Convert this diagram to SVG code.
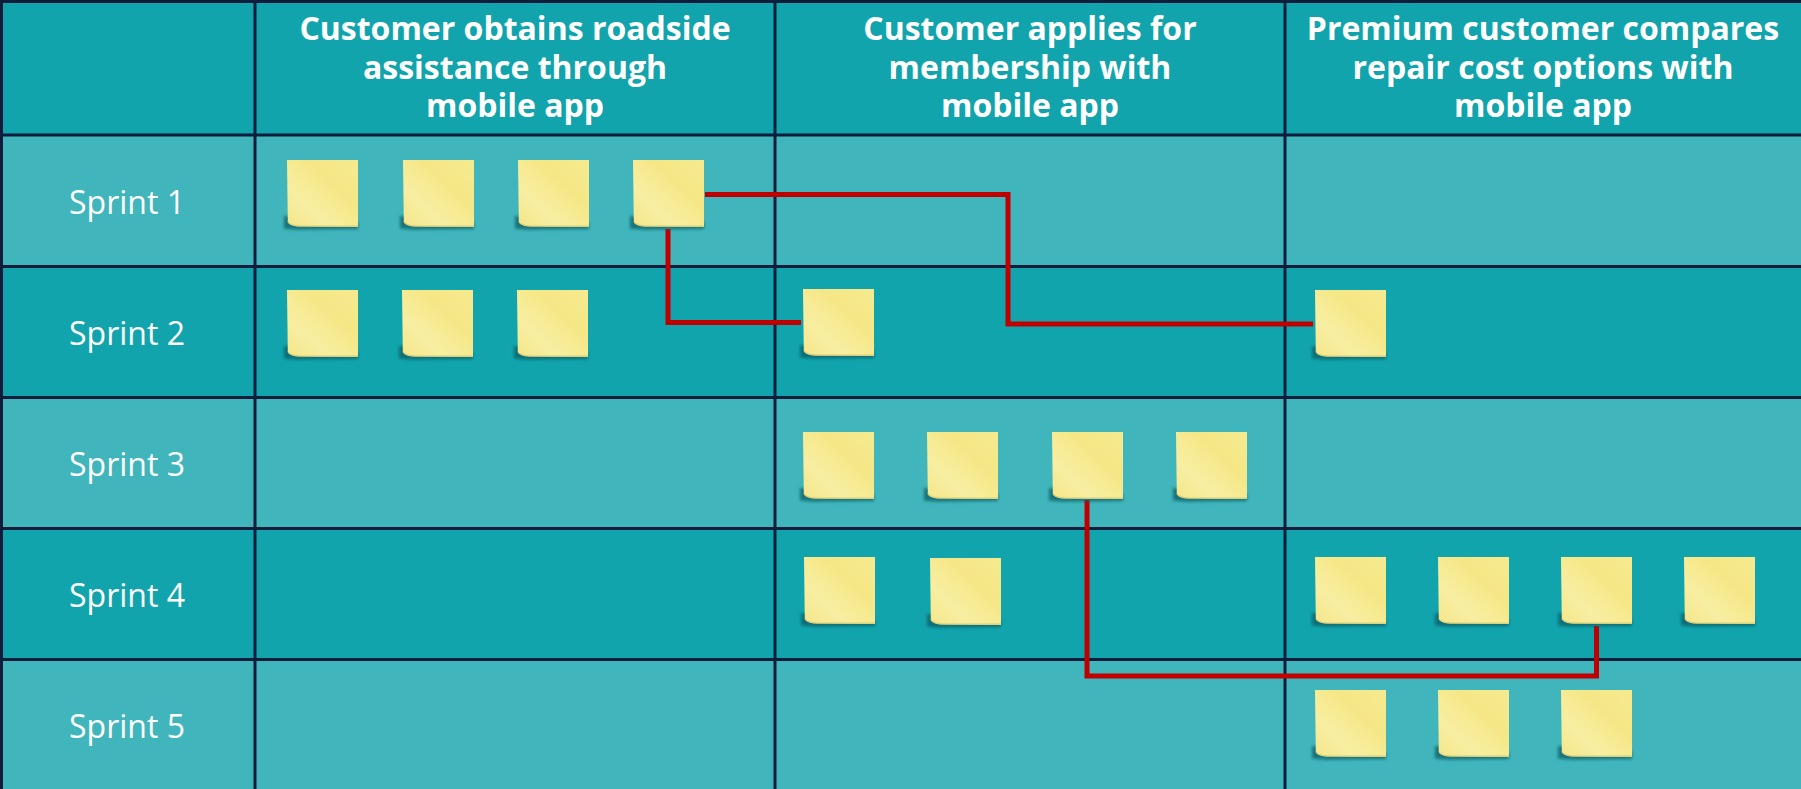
<svg xmlns="http://www.w3.org/2000/svg" xmlns:xlink="http://www.w3.org/1999/xlink" width="1801" height="789" viewBox="0 0 1801 789">
  <style>
    .hdr { fill: #11a4ac; }
    .lite { fill: #40b5bb; }
    .dark { fill: #11a4ac; }
    .grid { stroke: #0d1d3b; stroke-width: 3; fill: none; }
    .head { font-family: "Open Sans", "Liberation Sans", sans-serif; font-weight: 700; font-size: 32px; fill: #ffffff; text-anchor: middle; }
    .sprint { font-family: "Open Sans", "Liberation Sans", sans-serif; font-weight: 400; font-size: 32px; fill: #ffffff; text-anchor: middle; }
    .link { stroke: #c00000; stroke-width: 5; fill: none; stroke-linejoin: miter; stroke-linecap: butt; }
  </style>
  <defs>
    <linearGradient id="paper" x1="0" y1="1" x2="1" y2="0">
      <stop offset="0" stop-color="#f4e68a"/>
      <stop offset="0.3" stop-color="#f8eea2"/>
      <stop offset="0.65" stop-color="#f5e786"/>
      <stop offset="1" stop-color="#f6ea90"/>
    </linearGradient>
    <filter id="soft" x="-20%" y="-20%" width="140%" height="140%">
      <feGaussianBlur stdDeviation="1.6"/>
    </filter>
    <!-- sticky note: 71 x 67, slightly curled lower-left corner -->
    <symbol id="note" width="80" height="76" viewBox="-5 -2 80 76" overflow="visible">
      <path d="M-3,56 L-3,68.5 Q6,70 20,69.5 L71,69 L71,62 Z" fill="#0b5d66" opacity="0.75" filter="url(#soft)"/>
      <path d="M0,0 H71 V67 L12,66.6 Q3,66.3 0.8,62 Z" fill="url(#paper)"/>
      <path d="M71,66.2 L12,65.8 Q3,65.5 0.8,61.5" fill="none" stroke="#d9cd72" stroke-width="1.2"/>
    </symbol>
  </defs>

  <!-- board rows -->
  <g id="board">
    <rect class="hdr" x="0" y="0" width="1801" height="135"/>
    <rect class="lite" x="0" y="135" width="1801" height="131.5"/>
    <rect class="dark" x="0" y="266.5" width="1801" height="131"/>
    <rect class="lite" x="0" y="397.5" width="1801" height="131"/>
    <rect class="dark" x="0" y="528.5" width="1801" height="131"/>
    <rect class="lite" x="0" y="659.5" width="1801" height="130"/>
    <path class="grid" d="M1.5,0 V789 M0,1.5 H1801 M255,0 V789 M775,0 V789 M1285,0 V789 M0,135 H1801 M0,266.5 H1801 M0,397.5 H1801 M0,528.5 H1801 M0,659.5 H1801"/>
  </g>

  <!-- column headings -->
  <g id="story-roadside">
    <text class="head" x="515" y="40">Customer obtains roadside</text>
    <text class="head" x="515" y="79">assistance through</text>
    <text class="head" x="515" y="117">mobile app</text>
  </g>
  <g id="story-membership">
    <text class="head" x="1030" y="40">Customer applies for</text>
    <text class="head" x="1030" y="79">membership with</text>
    <text class="head" x="1030" y="117">mobile app</text>
  </g>
  <g id="story-repair">
    <text class="head" x="1543" y="40">Premium customer compares</text>
    <text class="head" x="1543" y="79">repair cost options with</text>
    <text class="head" x="1543" y="117">mobile app</text>
  </g>

  <!-- sprint labels -->
  <g id="sprint-1"><text class="sprint" x="127" y="214">Sprint 1</text></g>
  <g id="sprint-2"><text class="sprint" x="127" y="345">Sprint 2</text></g>
  <g id="sprint-3"><text class="sprint" x="127" y="476">Sprint 3</text></g>
  <g id="sprint-4"><text class="sprint" x="127" y="607">Sprint 4</text></g>
  <g id="sprint-5"><text class="sprint" x="127" y="738">Sprint 5</text></g>

  <!-- dependency links -->
  <g id="connectors">
    <path class="link" d="M705,194.5 H1008 V324 H1313"/>
    <path class="link" d="M668,229 V322.5 H801"/>
    <path class="link" d="M1087,500 V676 H1596.5 V626"/>
  </g>

  <!-- sticky notes -->
  <g id="s1-a"><use xlink:href="#note" x="282" y="158"/></g>
  <g id="s1-b"><use xlink:href="#note" x="398" y="158"/></g>
  <g id="s1-c"><use xlink:href="#note" x="513" y="158"/></g>
  <g id="s1-d"><use xlink:href="#note" x="628" y="158"/></g>

  <g id="s2-a"><use xlink:href="#note" x="282" y="288"/></g>
  <g id="s2-b"><use xlink:href="#note" x="397" y="288"/></g>
  <g id="s2-c"><use xlink:href="#note" x="512" y="288"/></g>
  <g id="s2-d"><use xlink:href="#note" x="798" y="287"/></g>
  <g id="s2-e"><use xlink:href="#note" x="1310" y="288"/></g>

  <g id="s3-a"><use xlink:href="#note" x="798" y="430"/></g>
  <g id="s3-b"><use xlink:href="#note" x="922" y="430"/></g>
  <g id="s3-c"><use xlink:href="#note" x="1047" y="430"/></g>
  <g id="s3-d"><use xlink:href="#note" x="1171" y="430"/></g>

  <g id="s4-a"><use xlink:href="#note" x="799" y="555"/></g>
  <g id="s4-b"><use xlink:href="#note" x="925" y="556"/></g>
  <g id="s4-c"><use xlink:href="#note" x="1310" y="555"/></g>
  <g id="s4-d"><use xlink:href="#note" x="1433" y="555"/></g>
  <g id="s4-e"><use xlink:href="#note" x="1556" y="555"/></g>
  <g id="s4-f"><use xlink:href="#note" x="1679" y="555"/></g>

  <g id="s5-a"><use xlink:href="#note" x="1310" y="688"/></g>
  <g id="s5-b"><use xlink:href="#note" x="1433" y="688"/></g>
  <g id="s5-c"><use xlink:href="#note" x="1556" y="688"/></g>
</svg>
